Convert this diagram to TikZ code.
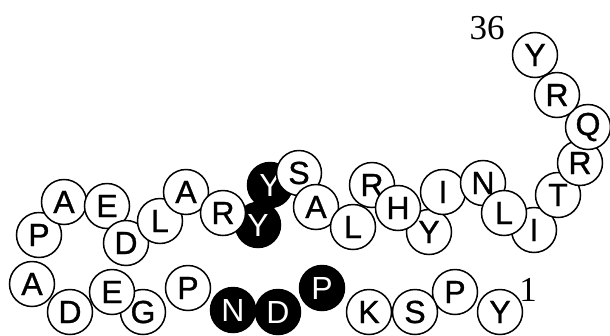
\documentclass[tikz,border=0pt]{standalone}
\usepackage{fontspec}
\setmainfont{Liberation Serif}
\setsansfont{Liberation Sans}
\newfontfamily\resfont{Liberation Sans}[FakeBold=1]
\usetikzlibrary{positioning}
\tikzset{
  res/.style    ={draw, circle, fill=white, line width=1.5pt, inner sep=0pt,
                  minimum size=45pt, font=\resfont\fontsize{32}{32}\selectfont},
  resdark/.style={res, fill=black, text=white,
                  font=\sffamily\fontsize{32}{32}\selectfont},
  endlabel/.style={font=\fontsize{35}{35}\selectfont},
}

\begin{document}
\begin{tikzpicture}[x=1pt, y=-1pt]
\useasboundingbox (0,0) rectangle (610,335);

% shaded residues go underneath
\foreach \n/\aa/\x/\y in {5/P/322/288, 6/D/278/312, 7/N/233/310,
                          20/Y/258/225, 21/Y/270/185}
  \node[resdark] (r\n) at (\x,\y) {\aa};

% chain from residue 1 to 36
\foreach \n/\aa/\x/\y in {1/Y/500/312, 2/P/455/292, 3/S/415/312, 4/K/369/312,
                          8/P/188/288, 9/G/143/312, 10/E/112/292, 11/D/70/312,
                          12/A/32/284, 13/P/39/235, 14/A/64/202, 15/E/107/206,
                          16/D/126/243, 17/L/160/221, 18/A/186/192, 19/R/223/213,
                          22/S/299/173, 23/A/316/207, 24/L/353/227, 25/R/372/185,
                          27/Y/429/232, 26/H/398/208, 28/I/443/192, 29/N/483/183,
                          31/I/534/230, 30/L/504/213, 32/T/558/195, 33/R/580/163,
                          34/Q/588/127, 35/R/557/95, 36/Y/535/55}
  \node[res] (r\n) at (\x,\y) {\aa};

\node[endlabel] (nterm) at (528,290) {1};
\node[endlabel] (cterm) at (487,28) {36};

\end{tikzpicture}
\end{document}
